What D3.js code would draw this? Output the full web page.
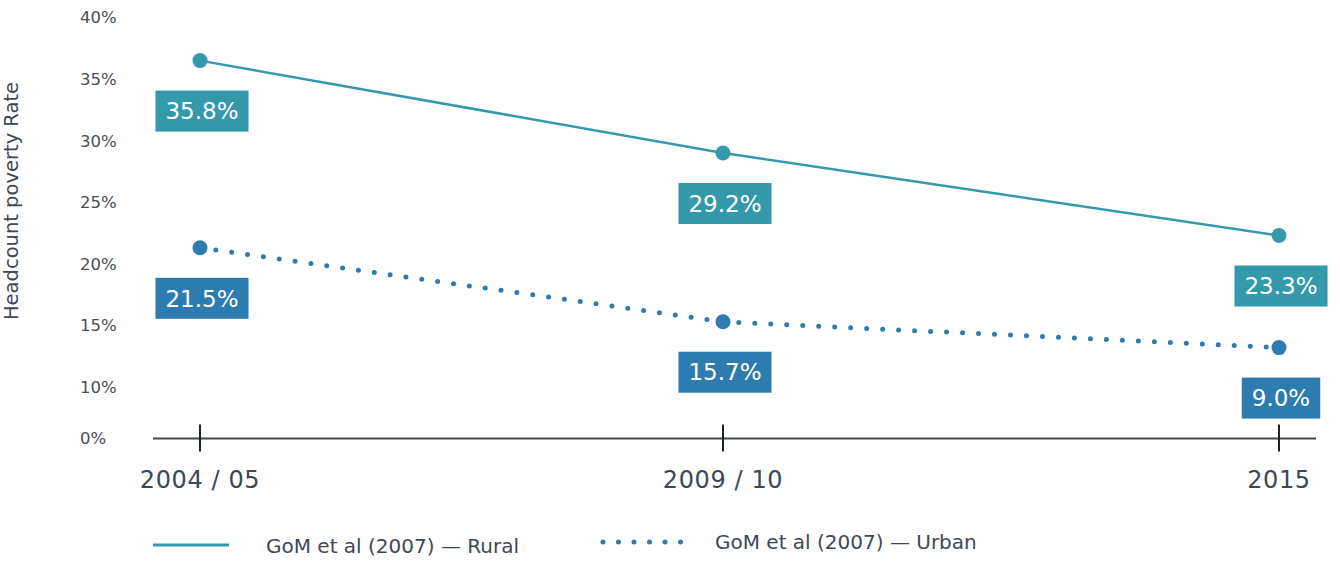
<!DOCTYPE html>
<html>
<head>
<meta charset="utf-8">
<script src="https://cdnjs.cloudflare.com/ajax/libs/d3/7.8.5/d3.min.js"></script>
<style>
body { margin: 0; background: #fff; }
svg { display: block; }
</style>
</head>
<body>
<div id="chart"></div>
<script>
var periods = ["2004 / 05", "2009 / 10", "2015"]
var ruralValues = [36.5, 29.0, 22.3]
var urbanValues = [21.3, 15.3, 13.2]
var ruralLabels = ["35.8%", "29.2%", "23.3%"]
var urbanLabels = ["21.5%", "15.7%", "9.0%"]
var yTicks = [0, 10, 15, 20, 25, 30, 35, 40]
var legendLabels = ["GoM et al (2007) \u2014 Rural", "GoM et al (2007) \u2014 Urban"]

var width = 1340, height = 563
var ruralColor = "#3499aa", urbanColor = "#2e7bb0"
var textColor = "#3d4855"
var font = "'DejaVu Sans', 'Open Sans', sans-serif"

var svg = d3.select("#chart").append("svg")
    .attr("width", width)
    .attr("height", height)

// the periods are not evenly spaced in the original
var xScale = d3.scaleOrdinal()
    .domain(periods)
    .range([200, 723, 1279])

// axis has a compressed gap between 0% and 10%
var yScale = d3.scaleLinear()
    .domain([0, 10, 40])
    .range([438.5, 387, 17.5])

// y tick labels
svg.append("g").selectAll("text")
    .data(yTicks)
    .join("text")
    .attr("x", 80)
    .attr("y", d => yScale(d))
    .attr("dy", "0.36em")
    .attr("font-family", font)
    .attr("font-size", 16.5)
    .attr("fill", "#4a4f55")
    .text(d => d + "%")

// y title
svg.append("text")
    .attr("transform", "translate(18,201) rotate(-90)")
    .attr("text-anchor", "middle")
    .attr("font-family", font)
    .attr("font-size", 19.5)
    .attr("fill", textColor)
    .text("Headcount poverty Rate")

// x axis
var xAxis = svg.append("g").attr("transform", "translate(0," + yScale(0) + ")")
xAxis.append("line")
    .attr("x1", 153).attr("x2", 1316)
    .attr("stroke", "#3d4852")
    .attr("stroke-width", 2)
xAxis.selectAll("line.tick")
    .data(periods)
    .join("line")
    .attr("class", "tick")
    .attr("x1", d => xScale(d)).attr("x2", d => xScale(d))
    .attr("y1", -14).attr("y2", 13)
    .attr("stroke", "#222")
    .attr("stroke-width", 2)
xAxis.selectAll("text")
    .data(periods)
    .join("text")
    .attr("x", d => xScale(d))
    .attr("y", 49)
    .attr("text-anchor", "middle")
    .attr("font-family", font)
    .attr("font-size", 24)
    .attr("letter-spacing", 0.6)
    .attr("fill", textColor)
    .text(d => d)

var line = d3.line()
    .x((d, i) => xScale(periods[i]))
    .y(d => yScale(d))

// rural series
svg.append("path")
    .datum(ruralValues)
    .attr("d", line)
    .attr("fill", "none")
    .attr("stroke", ruralColor)
    .attr("stroke-width", 2.5)

// urban series, dotted
svg.append("path")
    .datum(urbanValues)
    .attr("d", line)
    .attr("fill", "none")
    .attr("stroke", urbanColor)
    .attr("stroke-width", 5)
    .attr("stroke-linecap", "round")
    .attr("stroke-dasharray", "0 16")

function drawSeries(values, labels, color) {
    var g = svg.append("g")
    g.selectAll("circle")
        .data(values)
        .join("circle")
        .attr("cx", (d, i) => xScale(periods[i]))
        .attr("cy", d => yScale(d))
        .attr("r", 7.5)
        .attr("fill", color)

    var boxes = g.selectAll("g.box")
        .data(values)
        .join("g")
        .attr("class", "box")
        .attr("transform", (d, i) => "translate(" + (xScale(periods[i]) + 2) + "," + (yScale(d) + 30) + ")")
    boxes.append("text")
        .attr("y", 20.5)
        .attr("dy", "0.36em")
        .attr("text-anchor", "middle")
        .attr("font-family", font)
        .attr("font-size", 23)
        .attr("fill", "#fff")
        .text((d, i) => labels[i])
    boxes.each(function() {
        var t = d3.select(this).select("text")
        var w = t.node().getComputedTextLength() + 20
        d3.select(this).insert("rect", "text")
            .attr("x", -w / 2)
            .attr("width", w)
            .attr("height", 41)
            .attr("fill", color)
    })
}
drawSeries(ruralValues, ruralLabels, ruralColor)
drawSeries(urbanValues, urbanLabels, urbanColor)

// legend
var legend = svg.append("g")
legend.append("line")
    .attr("x1", 153).attr("x2", 229)
    .attr("y1", 545).attr("y2", 545)
    .attr("stroke", ruralColor)
    .attr("stroke-width", 3)
legend.append("line")
    .attr("x1", 603).attr("x2", 681)
    .attr("y1", 542).attr("y2", 542)
    .attr("stroke", urbanColor)
    .attr("stroke-width", 5)
    .attr("stroke-linecap", "round")
    .attr("stroke-dasharray", "0 15.5")
legend.selectAll("text")
    .data(legendLabels)
    .join("text")
    .attr("x", (d, i) => i == 0 ? 266 : 715)
    .attr("y", (d, i) => i == 0 ? 553 : 549)
    .attr("font-family", font)
    .attr("font-size", 20)
    .attr("fill", textColor)
    .text(d => d)
</script>
</body>
</html>
